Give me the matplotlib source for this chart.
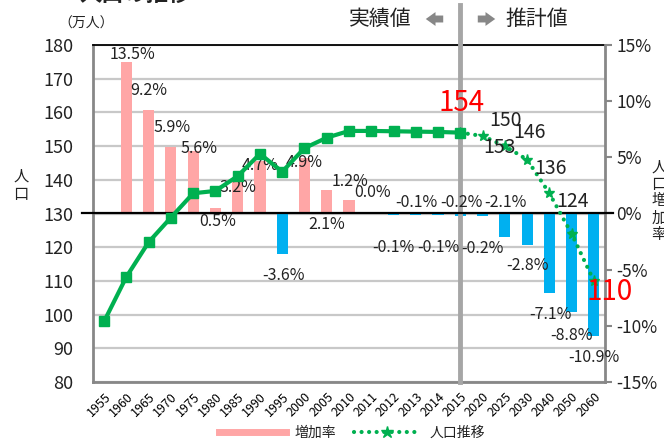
import matplotlib
matplotlib.use('Agg')
import matplotlib.pyplot as plt
from matplotlib.lines import Line2D
import numpy as np

plt.rcParams['font.family'] = ['Noto Sans CJK JP', 'DejaVu Sans']
plt.rcParams['text.color'] = '#222222'

# data
years = ['1955', '1960', '1965', '1970', '1975', '1980', '1985', '1990', '1995',
         '2000', '2005', '2010', '2011', '2012', '2013', '2014', '2015',
         '2020', '2025', '2030', '2040', '2050', '2060']
population = [98.0, 111.2, 121.5, 128.8, 136.0, 136.7, 141.1, 147.7, 142.4,
              149.4, 152.5, 154.5, 154.5, 154.4, 154.3, 154.2, 154.0,
              153.0, 150.0, 146.0, 136.0, 124.0, 110.0]
rate_years = years[1:]
rates = [13.5, 9.2, 5.9, 5.6, 0.5, 3.2, 4.7, -3.6, 4.9, 2.1, 1.2, 0.0,
         -0.1, -0.1, -0.1, -0.2, -0.2, -2.1, -2.8, -7.1, -8.8, -10.9]
est_start = 16  # 2015, first index of the projected part

# label offsets in pixels (dx, dy)
rate_offsets = [(6, 7), (0, 20), (1, 20), (6, 2), (2, -14), (0, -10), (0, -5),
                (1, -22), (0, -4), (0, -35), (1, 19), (1, 21), (0, -33), (1, 12),
                (0, -33), (1, 13), (0, -33), (1, 35), (0, -21), (1, -21),
                (0, -23), (0, -22)]
pop_offsets = [(1, 30), (17, -12), (1, 26), (2, 27), (1, 25), (1, 32), (16, -11)]

pink = '#FFA6A6'
blue = '#00B0F0'
green = '#00B050'
gray = '#878787'

W, H = 664, 440
fig = plt.figure(figsize=(W / 100, H / 100), dpi=100)
ax = fig.add_axes([93 / W, 1 - 382 / H, 512 / W, 337 / H])
ax2 = ax.twinx()
ax3 = ax.twinx()

x = np.arange(len(years))
xr = x[1:]

# left axis: population
ax.set_xlim(-0.5, len(years) - 0.5)
ax.set_ylim(80, 180)
ax.set_yticks(range(80, 181, 10))
ax.grid(axis='y', color='#C8C8C8', lw=1.6)
ax.set_axisbelow(True)
ax.tick_params(axis='y', length=0, pad=14, labelsize=13, labelcolor='#222222')
ax.set_xticks(x)
ax.set_xticklabels(years, rotation=45, ha='right', va='top', rotation_mode='anchor', fontsize=9)
ax.tick_params(axis='x', length=0, pad=6)
for s in ['left', 'bottom']:
    ax.spines[s].set_color(gray)
    ax.spines[s].set_linewidth(2)
ax.spines['top'].set_color('black')
ax.spines['top'].set_linewidth(1.3)
ax.spines['right'].set_visible(False)

# right axis: increase rate
ax2.set_ylim(-15, 15)
ax2.set_yticks(range(-15, 16, 5))
ax2.set_yticklabels([f'{v}%' for v in range(-15, 16, 5)])
ax2.tick_params(axis='y', length=5, width=1.5, color=gray, pad=3, labelsize=12.5, labelcolor='#222222')
ax2.spines['right'].set_color(gray)
ax2.spines['right'].set_linewidth(2)
for s in ['left', 'top', 'bottom']:
    ax2.spines[s].set_visible(False)

colors = [pink if r >= 0 else blue for r in rates]
ax2.bar(xr, rates, width=0.5, color=colors, zorder=2)
ax2.axhline(0, xmin=-0.022, xmax=1.016, color='black', lw=1.6, clip_on=False, zorder=3)
ax2.axvline(est_start, ymin=0, ymax=1.119, color='#A6A6A6', lw=3.5, clip_on=False, zorder=2.5)

for xi, r, (dx, dy) in zip(xr, rates, rate_offsets):
    ax2.annotate(f'{r:.1f}%', (xi, r), xytext=(dx, dy), textcoords='offset pixels',
                 ha='center', va='center', fontsize=11.5, zorder=5)

# population line on top
ax3.set_ylim(80, 180)
ax3.axis('off')
ax3.plot(x[:est_start + 1], population[:est_start + 1], color=green, lw=3,
         marker='s', ms=7, zorder=4)
ax3.plot(x[est_start:], population[est_start:], color=green, lw=3,
         ls=(0, (0.01, 1.8)), dash_capstyle='round', marker='*', ms=8, zorder=4)

for i, (dx, dy) in zip(range(est_start, len(years)), pop_offsets):
    big = i in (est_start, len(years) - 1)
    ax3.annotate(f'{population[i]:.0f}', (x[i], population[i]), xytext=(dx, dy),
                 textcoords='offset pixels', ha='center', va='center',
                 fontsize=20 if big else 14, color='red' if big else '#222222', zorder=6)

# texts around the plot
fig.text(135 / W, 1 + 5 / H, '人口の推移', ha='center', va='center', fontsize=16, fontweight='bold')
fig.text(86 / W, 1 - 24 / H, '（万人）', ha='center', va='center', fontsize=10)
fig.text(21 / W, 1 - 185 / H, '人\n口', ha='center', va='center', fontsize=11, linespacing=1.1)
fig.text(659 / W, 1 - 201 / H, '人\n口\n増\n加\n率', ha='center', va='center', fontsize=11, linespacing=1.0)
fig.text(380 / W, 1 - 19 / H, '実績値', ha='center', va='center', fontsize=15)
fig.text(537 / W, 1 - 19 / H, '推計値', ha='center', va='center', fontsize=15)
arrow = dict(arrowstyle='simple,head_length=0.7,head_width=1.0,tail_width=0.5', color=gray, lw=0)
ax.annotate('', xy=(423, H - 19), xytext=(446, H - 19), xycoords='figure pixels',
            textcoords='figure pixels', arrowprops=arrow)
ax.annotate('', xy=(498, H - 19), xytext=(475, H - 19), xycoords='figure pixels',
            textcoords='figure pixels', arrowprops=arrow)

handles = [Line2D([], [], color=pink, lw=5),
           Line2D([], [], color=green, lw=3, ls=(0, (0.01, 1.8)), dash_capstyle='round',
                  marker='*', ms=9)]
fig.legend(handles, ['増加率', '人口推移'], loc='center', bbox_to_anchor=(352 / W, 1 - 433 / H),
           ncol=2, frameon=False, fontsize=10, handlelength=4.8, handletextpad=0.6,
           columnspacing=1.3, borderpad=0)

fig.savefig('out.png', dpi=100)
